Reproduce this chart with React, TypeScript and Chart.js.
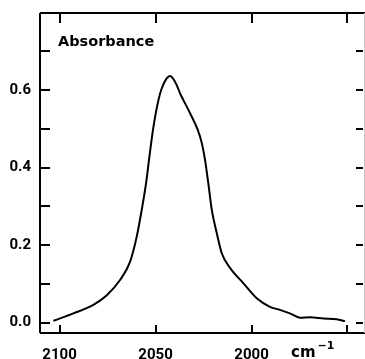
import React, { useEffect, useRef } from "react";
import { Chart, registerables } from "chart.js";

Chart.register(...registerables);

const WAVENUMBERS = [
  2103.2, 2092.8, 2082.4, 2075.4, 2068.5, 2063.3, 2059.8, 2057.2, 2054.9, 2052.9,
  2051.1, 2048.5, 2046.8, 2044.2, 2042.4, 2039.0, 2037.2, 2035.5, 2032.0, 2028.0,
  2025.9, 2024.2, 2022.5, 2020.7, 2018.1, 2015.5, 2011.0, 2004.3, 1997.3, 1990.4,
  1985.2, 1980.0, 1974.7, 1969.5, 1962.6, 1955.6, 1951.3,
];
const ABSORBANCE = [
  0.005, 0.024, 0.046, 0.071, 0.11, 0.157, 0.222, 0.291, 0.361, 0.44,
  0.505, 0.574, 0.604, 0.63, 0.636, 0.613, 0.591, 0.574, 0.54, 0.497,
  0.463, 0.419, 0.359, 0.291, 0.231, 0.179, 0.14, 0.102, 0.063, 0.041,
  0.033, 0.024, 0.013, 0.014, 0.011, 0.009, 0.004,
];
const X_TICKS = [2100, 2050, 2000, 1950];
const X_LABELS = ["2100", "2050", "2000", ""];
const Y_TICKS = [0, 0.1, 0.2, 0.3, 0.4, 0.5, 0.6, 0.7];
const Y_LABELED = [0, 0.2, 0.4, 0.6];
const Y_TITLE = "Absorbance";
const X_UNIT = "cm";
const X_UNIT_SUP = "\u22121";

const framePlugin = {
  id: "frame",
  afterDraw(chart: any) {
    const { ctx, chartArea } = chart;
    const { left, top, right, bottom } = chartArea;
    const xs = chart.scales.x;
    const ys = chart.scales.y;
    ctx.save();
    ctx.strokeStyle = "#000";
    ctx.lineWidth = 2;
    ctx.beginPath();
    ctx.moveTo(left, top);
    ctx.lineTo(chart.width, top);
    ctx.moveTo(left, top);
    ctx.lineTo(left, bottom);
    ctx.moveTo(left, bottom);
    ctx.lineTo(chart.width, bottom);
    ctx.stroke();
    ctx.strokeStyle = "#c8c8c8";
    ctx.lineWidth = 1;
    ctx.beginPath();
    ctx.moveTo(right + 0.5, top);
    ctx.lineTo(right + 0.5, bottom);
    ctx.stroke();
    ctx.strokeStyle = "#000";
    ctx.lineWidth = 2;
    ctx.beginPath();
    for (const v of X_TICKS) {
      const px = Math.round(xs.getPixelForValue(v));
      ctx.moveTo(px, bottom);
      ctx.lineTo(px, bottom - 8);
      ctx.moveTo(px, top);
      ctx.lineTo(px, top + 10);
    }
    for (const v of Y_TICKS) {
      const py = Math.round(ys.getPixelForValue(v));
      ctx.moveTo(left, py);
      ctx.lineTo(left + 10, py);
      ctx.moveTo(right - 8, py);
      ctx.lineTo(right - 1, py);
    }
    ctx.stroke();
    ctx.fillStyle = "#000";
    ctx.textBaseline = "alphabetic";
    ctx.textAlign = "left";
    ctx.font = "bold 14.5px 'DejaVu Sans'";
    ctx.fillText(Y_TITLE, left + 18, top + 33);
    ctx.font = "bold 15px 'DejaVu Sans'";
    ctx.fillText(X_UNIT, 291, 357);
    const w = ctx.measureText(X_UNIT).width;
    ctx.font = "bold 11px 'DejaVu Sans'";
    ctx.fillText(X_UNIT_SUP, 291 + w + 2, 349);
    ctx.restore();
  },
};

export default function App() {
  const ref = useRef<HTMLCanvasElement | null>(null);
  useEffect(() => {
    if (!ref.current) return;
    const chart = new Chart(ref.current, {
      type: "line",
      data: {
        datasets: [
          {
            data: WAVENUMBERS.map((x, i) => ({ x, y: ABSORBANCE[i] })),
            borderColor: "#000",
            borderWidth: 2,
            pointRadius: 0,
            tension: 0.4,
            cubicInterpolationMode: "monotone",
            fill: false,
          },
        ],
      },
      options: {
        animation: false,
        responsive: false,
        maintainAspectRatio: false,
        layout: { padding: { top: 13, right: 1, left: 0, bottom: 0 } },
        plugins: { legend: { display: false }, tooltip: { enabled: false } },
        scales: {
          x: {
            type: "linear",
            reverse: true,
            min: 1941.4,
            max: 2110.2,
            border: { display: false },
            grid: { display: false, drawTicks: false },
            afterBuildTicks: (s: any) => {
              s.ticks = X_TICKS.map((v) => ({ value: v }));
            },
            afterFit: (s: any) => {
              s.height = 26;
              s.paddingLeft = 0;
              s.paddingRight = 0;
            },
            ticks: {
              autoSkip: false,
              maxRotation: 0,
              padding: 13,
              color: "#000",
              font: { family: "Roboto", weight: "bold", size: 15 },
              callback: (v: any) => {
                const i = X_TICKS.indexOf(Number(v));
                return i >= 0 ? X_LABELS[i] : "";
              },
            },
          },
          y: {
            type: "linear",
            min: -0.0266,
            max: 0.7986,
            border: { display: false },
            grid: { display: false, drawTicks: false },
            afterBuildTicks: (s: any) => {
              s.ticks = Y_TICKS.map((v) => ({ value: v }));
            },
            afterFit: (s: any) => {
              s.width = 40;
              s.paddingTop = 0;
              s.paddingBottom = 0;
            },
            ticks: {
              autoSkip: false,
              padding: 9,
              color: "#000",
              font: { family: "Roboto", weight: "bold", size: 15 },
              callback: (v: any) => {
                const n = Number(v);
                return Y_LABELED.some((t) => Math.abs(t - n) < 1e-6) ? n.toFixed(1) : "";
              },
            },
          },
        },
      },
      plugins: [framePlugin],
    } as any);
    return () => chart.destroy();
  }, []);
  return (
    <div style={{ position: "fixed", left: 0, top: 0, width: 365, height: 359, background: "#fff" }}>
      <canvas ref={ref} width={365} height={359} style={{ display: "block" }} />
    </div>
  );
}
